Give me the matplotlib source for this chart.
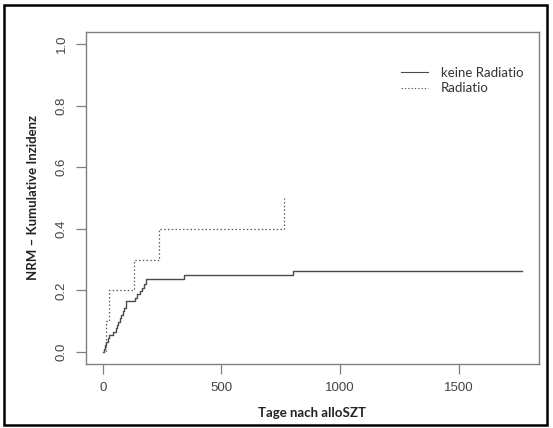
import numpy as np
import matplotlib
matplotlib.use("Agg")
import matplotlib.pyplot as plt
from matplotlib.patches import Rectangle

# cumulative incidence, step functions
tage_keine = [0, 4, 9, 14, 20, 27, 42, 55, 60, 66, 72, 78, 84, 90, 98,
              136, 146, 156, 165, 175, 184, 343, 800, 1765]
cif_keine = [0, 0.011, 0.022, 0.033, 0.044, 0.055, 0.066, 0.077, 0.088,
             0.099, 0.110, 0.121, 0.132, 0.143, 0.165, 0.176, 0.187, 0.198,
             0.209, 0.220, 0.236, 0.250, 0.264, 0.264]

tage_rad = [0, 12, 25, 132, 236, 763]
cif_rad = [0, 0.1, 0.2, 0.3, 0.4, 0.5]

xticks = [0, 500, 1000, 1500]
yticks = [0.0, 0.2, 0.4, 0.6, 0.8, 1.0]
labels = ["keine Radiatio", "Radiatio"]

grey = "#808080"
txt = "#444444"

fig = plt.figure(figsize=(5.53, 4.28), dpi=100)
ax = fig.add_axes([0.1555, 0.1488, 0.8185, 0.7772])

ax.plot(tage_keine, cif_keine, drawstyle="steps-post", color="#4a4a4a",
        lw=1.0, label=labels[0])
ax.plot(tage_rad, cif_rad, drawstyle="steps-post", color="#5a5a5a",
        lw=0.9, ls=(0, (1.2, 1.8)), label=labels[1])

ax.set_xlim(-70.6, 1835.6)
ax.set_ylim(-0.04, 1.04)
ax.set_xticks(xticks)
ax.set_yticks(yticks)
ax.set_xticklabels([str(v) for v in xticks], family="Liberation Sans",
                   fontsize=9.5, color=txt)
ax.set_yticklabels(["%.1f" % v for v in yticks], family="Liberation Sans",
                   fontsize=9.5, color=txt, rotation=90, va="center")
ax.tick_params(length=7, width=0.9, color=grey, pad=6)

for s in ax.spines.values():
    s.set_color(grey)
    s.set_linewidth(1.0)

ax.set_xlabel("Tage nach alloSZT", family="Lato", fontweight="bold",
              fontsize=9.5, color="#222222", labelpad=9)
ax.set_ylabel("NRM \u2013 Kumulative Inzidenz", family="Lato",
              fontweight="bold", fontsize=9.5, color="#222222", labelpad=12)

leg = ax.legend(loc="upper left", bbox_to_anchor=(0.67, 0.93), frameon=False,
                prop={"family": "Lato", "size": 9.5}, handlelength=2.0,
                handletextpad=1.0, labelspacing=0.25)
for t in leg.get_texts():
    t.set_color("#333333")
for h in leg.get_lines():
    h.set_linewidth(0.8)

# black frame round the whole picture
fig.patches.append(Rectangle((0.008, 0.008), 0.982, 0.981,
                             transform=fig.transFigure, fill=False,
                             edgecolor="black", lw=1.8))

fig.savefig("out.png", dpi=100)
